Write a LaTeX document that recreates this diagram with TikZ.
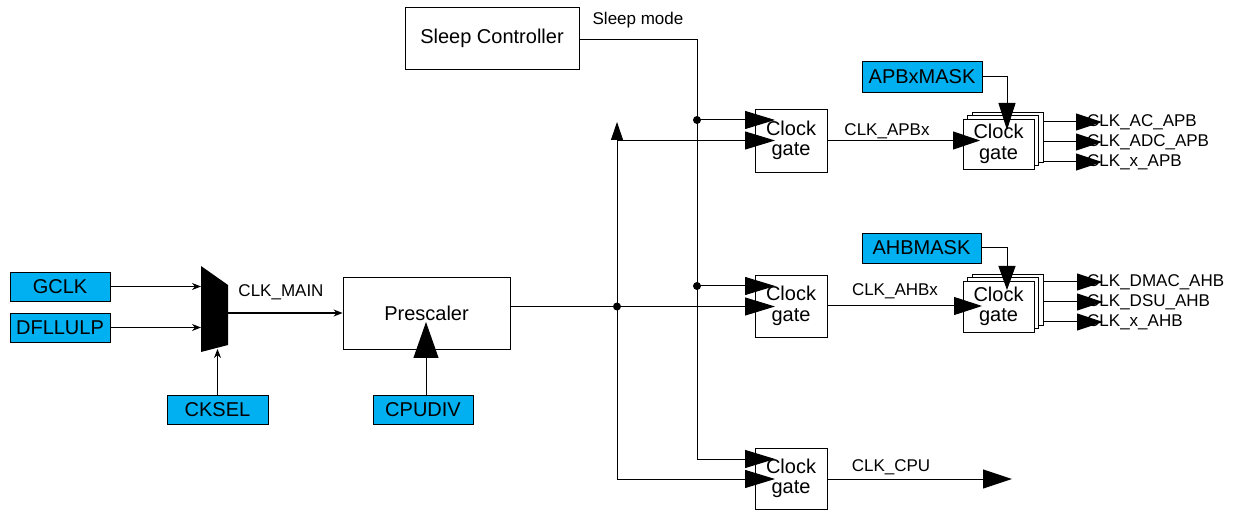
\documentclass[tikz,border=0pt]{standalone}
\usepackage{fontspec}
\setmainfont{Liberation Sans}
\usetikzlibrary{arrows.meta,calc}
\definecolor{maskblue}{RGB}{0,176,240}
\begin{document}
\begin{tikzpicture}[x=1pt,y=-1pt,
  box/.style={draw=black,line width=0.8pt,inner sep=0pt,align=center,font=\fontsize{20}{20.5}\selectfont},
  reg/.style={box,fill=maskblue},
  stk/.style={box,fill=white,minimum width=71pt,minimum height=50pt},
  lbl/.style={inner sep=0pt,font=\fontsize{17}{19}\selectfont},
  wire/.style={line width=1pt,draw=black},
  small/.style={-{Stealth[length=9pt,width=7pt]}},
  bigtri/.style={-{Triangle[length=30pt,width=18pt]}},
  outarr/.style={-{Triangle[length=26pt,width=17pt]}},
  dot/.style={circle,fill=black,inner sep=0pt,minimum size=8pt},
]
\useasboundingbox (0,0) rectangle (1234,510);

% ---- boxes
\node[box,minimum width=174pt,minimum height=62pt] (sleep) at (492,38) {Sleep Controller};
\node[reg,minimum width=100pt,minimum height=29pt] (gclk) at (60,286.5) {GCLK};
\node[reg,minimum width=100pt,minimum height=29pt] (dfll) at (60,327.5) {DFLLULP};
\node[reg,minimum width=101pt,minimum height=29pt] (cksel) at (217.5,409.5) {CKSEL};
\node[box,minimum width=167pt,minimum height=72pt] (presc) at (426.5,313) {Prescaler};
\node[reg,minimum width=100pt,minimum height=29pt] (cpudiv) at (423,409.5) {CPUDIV};

\node[box,minimum width=72pt,minimum height=63pt] (apbgate) at (791,140.5) {Clock\\gate};
\node[box,minimum width=72pt,minimum height=62pt] (ahbgate) at (791,306) {Clock\\gate};
\node[box,minimum width=72pt,minimum height=61pt] (cpugate) at (791,478.5) {Clock\\gate};

\node[reg,minimum width=120pt,minimum height=31pt] (apbmask) at (922,76.5) {APBxMASK};
\node[reg,minimum width=119pt,minimum height=30pt] (ahbmask) at (921.5,248) {AHBMASK};

\node[stk] (apbs3) at (1007.5,137) {};
\node[stk] (apbs2) at (1003,140.5) {};
\node[stk] (apbs1) at (998.5,144) {Clock\\gate};
\node[stk,minimum height=51pt] (ahbs3) at (1007.5,299.5) {};
\node[stk,minimum height=51pt] (ahbs2) at (1003,303) {};
\node[stk,minimum height=51pt] (ahbs1) at (998.5,306.5) {Clock\\gate};

% ---- multiplexer
\fill[black] (201,266) -- (228,285) -- (228,345) -- (201,352) -- cycle;
\coordinate (muxin1) at (201,286.5);
\coordinate (muxin2) at (201,327.5);
\coordinate (muxsel) at (217.5,349);
\coordinate (muxout) at (228,313);

% ---- labels
\node[lbl] (clkmain) at (281,292) {CLK\_MAIN};
\node[lbl] (sleepmode) at (638,20) {Sleep mode};
\node[lbl] (clkapbx) at (887,131) {CLK\_APBx};
\node[lbl] (clkahbx) at (895,291) {CLK\_AHBx};
\node[lbl] (clkcpu) at (891,467) {CLK\_CPU};
\node[lbl,anchor=west] (o1l) at (1087,122) {CLK\_AC\_APB};
\node[lbl,anchor=west] (o2l) at (1087,142) {CLK\_ADC\_APB};
\node[lbl,anchor=west] (o3l) at (1087,162) {CLK\_x\_APB};
\node[lbl,anchor=west] (o4l) at (1087,282) {CLK\_DMAC\_AHB};
\node[lbl,anchor=west] (o5l) at (1087,302) {CLK\_DSU\_AHB};
\node[lbl,anchor=west] (o6l) at (1087,322) {CLK\_x\_AHB};

% ---- left side wires
\draw[wire,small] (gclk.east) -- (muxin1);
\draw[wire,small] (dfll.east) -- (muxin2);
\draw[wire,small] (cksel.north) -- (muxsel);
\draw[wire,line width=2pt,small] (muxout) -- (presc.west |- muxout);
\coordinate (cpdtip) at (426,322);
\draw[wire,-{Triangle[length=36pt,width=25pt]}] (cpudiv.north -| cpdtip) -- (cpdtip);

% ---- clock distribution
\coordinate (j1) at (617,306.5);
\coordinate (vtop) at (617,122);
\coordinate (vb) at (617,140.5);
\coordinate (vbot) at (617,479);
\coordinate (g1s) at (775,120);
\coordinate (g1c) at (775,140.5);
\coordinate (g2s) at (775,286);
\coordinate (g2c) at (775,306.5);
\coordinate (g3s) at (775,459);
\coordinate (g3c) at (775,479);
\draw[wire] (presc.east |- j1) -- (j1);
\draw[wire,-{Triangle[length=18pt,width=12pt]}] (vbot) -- (vtop);
\draw[wire,bigtri] (vb) -- (g1c);
\draw[wire,bigtri] (j1) -- (g2c);
\draw[wire,bigtri] (vbot) -- (g3c);
\node[dot] (d1) at (j1) {};

% ---- sleep mode
\coordinate (s0) at (697,40);
\coordinate (s1) at (697,120);
\coordinate (s2) at (697,286);
\coordinate (s3) at (697,459);
\draw[wire] (sleep.east |- s0) -- (s0) -- (s3);
\draw[wire,bigtri] (s1) -- (g1s);
\draw[wire,bigtri] (s2) -- (g2s);
\draw[wire,bigtri] (s3) -- (g3s);
\node[dot] (d2) at (s1) {};
\node[dot] (d3) at (s2) {};

% ---- gate outputs
\coordinate (a1tip) at (980,140.5);
\coordinate (a2tip) at (982,306);
\coordinate (cputip) at (1012,479);
\draw[wire,-{Triangle[length=27pt,width=18pt]}] (apbgate.east) -- (a1tip);
\draw[wire,-{Triangle[length=28pt,width=18pt]}] (ahbgate.east) -- (a2tip);
\draw[wire,-{Triangle[length=29pt,width=19pt]}] (cpugate.east |- cputip) -- (cputip);

% ---- masks
\coordinate (m1tip) at (1007,130);
\coordinate (m2tip) at (1007,290);
\draw[wire,-{Triangle[length=27pt,width=17pt]}] (apbmask.east) -| (m1tip);
\draw[wire,-{Triangle[length=24pt,width=17pt]}] (ahbmask.east) -| (m2tip);

% ---- peripheral clocks
\coordinate (o1) at (1102,122);
\coordinate (o2) at (1102,142);
\coordinate (o3) at (1102,162);
\coordinate (o4) at (1103,282);
\coordinate (o5) at (1103,302);
\coordinate (o6) at (1103,322);
\draw[wire,outarr] (apbs3.east |- o1) -- (o1);
\draw[wire,outarr] (apbs3.east |- o2) -- (o2);
\draw[wire,outarr] (apbs3.east |- o3) -- (o3);
\draw[wire,outarr] (ahbs3.east |- o4) -- (o4);
\draw[wire,outarr] (ahbs3.east |- o5) -- (o5);
\draw[wire,outarr] (ahbs3.east |- o6) -- (o6);
\end{tikzpicture}
\end{document}
